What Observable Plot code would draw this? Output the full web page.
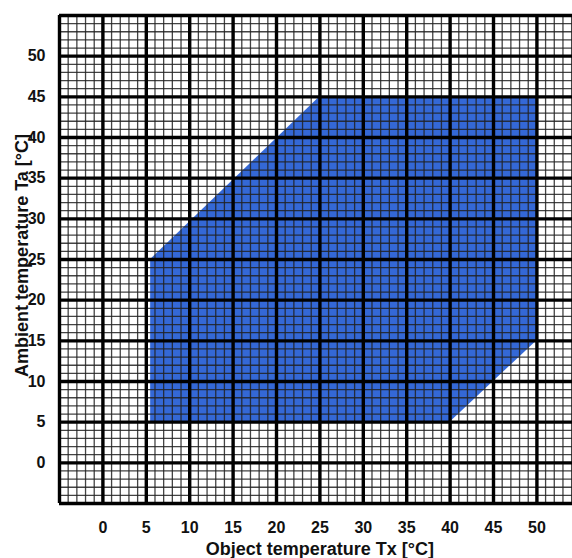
<!DOCTYPE html>
<html>
<head>
<meta charset="utf-8">
<script src="https://cdn.jsdelivr.net/npm/d3@7"></script>
<script src="https://cdn.jsdelivr.net/npm/@observablehq/plot@0.6"></script>
<style>
  html, body { margin: 0; padding: 0; background: #ffffff; }
  #chart svg { display: block; }
</style>
</head>
<body>
<div id="chart"></div>
<script>
// Tick labels on both axes
const xTicks = [0, 5, 10, 15, 20, 25, 30, 35, 40, 45, 50];
const yTicks = [0, 5, 10, 15, 20, 25, 30, 35, 40, 45, 50];

// Operating region: object temperature Tx along the boundary,
// with the lower and upper ambient temperature Ta limits at each point
const boundaryTx = [5.5, 25, 40, 50];
const lowerTa   = [5, 5, 5, 15];
const upperTa   = [25, 45, 45, 45];

const xLabel = "Object temperature Tx [°C]";
const yLabel = "Ambient temperature Ta [°C]";

// Graph-paper grid: fine lines every 1 °C, heavy lines every 5 °C
const xDomain = [-5, 54.1];
const yDomain = [-5, 55];
const xMinor = d3.range(-5, 55, 1);
const yMinor = d3.range(-5, 56, 1);
const xMajor = d3.range(-5, 55, 5);
const yMajor = d3.range(-5, 56, 5);

const region = boundaryTx.map((tx, i) => ({Tx: tx, lo: lowerTa[i], hi: upperTa[i]}));

const chart = Plot.plot({
  width: 572,
  height: 558,
  marginLeft: 59,
  marginRight: 0,
  marginTop: 15,
  marginBottom: 55,
  style: {fontFamily: "'Liberation Sans', Arial, sans-serif", fontWeight: "bold", color: "#111"},
  x: {domain: xDomain, axis: null},
  y: {domain: yDomain, axis: null},
  marks: [
    Plot.areaY(region, {x: "Tx", y1: "lo", y2: "hi", fill: "#3468d6"}),
    Plot.ruleX(xMinor, {stroke: "#222", strokeWidth: 1.3, strokeOpacity: 0.85}),
    Plot.ruleY(yMinor, {stroke: "#222", strokeWidth: 1.3, strokeOpacity: 0.85}),
    Plot.ruleX(xMajor, {stroke: "#000", strokeWidth: 3.4}),
    Plot.ruleY(yMajor, {stroke: "#000", strokeWidth: 3.4}),
    Plot.axisX(xTicks, {anchor: "bottom", tickSize: 0, tickPadding: 18, fontSize: 16, label: null}),
    Plot.axisY(yTicks, {anchor: "left", tickSize: 0, tickPadding: 14, fontSize: 16, label: null}),
    Plot.text([xLabel], {x: 25, frameAnchor: "bottom", dy: 46, lineAnchor: "middle", textAnchor: "middle", fontSize: 18, text: d => d}),
    Plot.text([yLabel], {y: 25.5, frameAnchor: "left", dx: -37, rotate: -90, lineAnchor: "middle", textAnchor: "middle", fontSize: 18, text: d => d})
  ]
});

document.getElementById("chart").appendChild(chart);
</script>
</body>
</html>
